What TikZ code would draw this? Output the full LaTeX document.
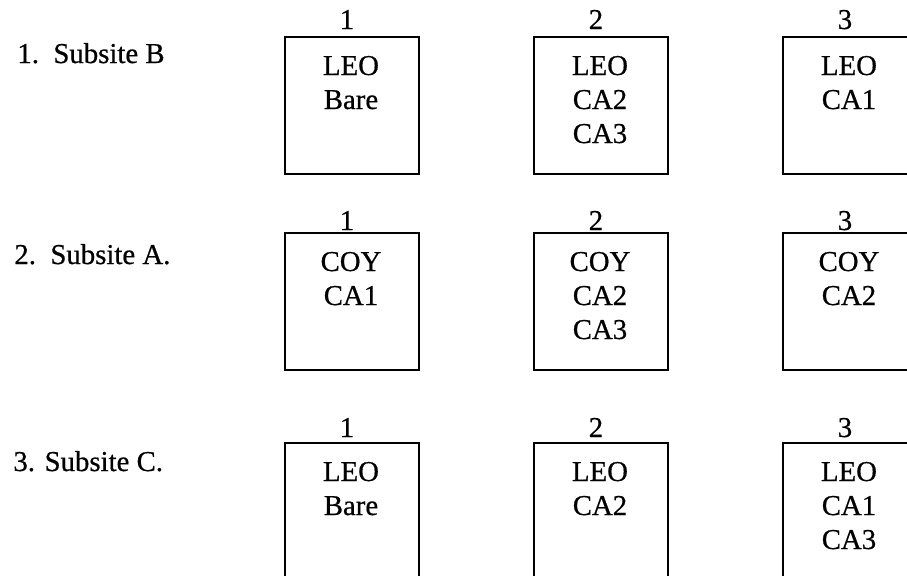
\documentclass[tikz,border=0pt]{standalone}
\usepackage{fontspec}
\setmainfont{Liberation Serif}[FakeBold=0.6]
\begin{document}
\begin{tikzpicture}[x=0.5pt,y=-0.5pt,
  plotbox/.style={draw, line width=1.1pt, minimum width=67pt, minimum height=68.5pt,
    inner sep=0pt, anchor=north west},
  txt/.style={font=\fontsize{14.4}{17}\selectfont, inner sep=0pt, anchor=base},
  rowlabel/.style={txt, anchor=base west}]
\useasboundingbox (0,0) rectangle (907,575);
\clip (0,0) rectangle (907,575);

% #1 name, #2 left, #3 top, #4 number above, #5 gap of number above top, #6 lines
\newcommand\cellbox[6]{%
  \node[plotbox] (#1) at (#2,#3) {};
  \node[txt] (#1-num) at ({#2+63},{#3-#5}) {#4};
  \foreach \t [count=\i] in {#6}
    \node[txt] (#1-\i) at ({#2+67},{#3+39+34*(\i-1)}) {\t};
}

% row labels
\node[rowlabel] (r1) at (17,63)  {1.\ \ Subsite B};
\node[rowlabel] (r2) at (14,264) {2.\ \ Subsite A.};
\node[rowlabel] (r3) at (13,471) {3. Subsite C.};

% row 1
\cellbox{b11}{284}{36}{1}{7}{LEO,Bare}
\cellbox{b12}{533}{36}{2}{7}{LEO,CA2,CA3}
\cellbox{b13}{782}{36}{3}{7}{LEO,CA1}

% row 2
\cellbox{b21}{284}{232}{1}{2}{COY,CA1}
\cellbox{b22}{533}{232}{2}{2}{COY,CA2,CA3}
\cellbox{b23}{782}{232}{3}{2}{COY,CA2}

% row 3
\cellbox{b31}{284}{442}{1}{5}{LEO,Bare}
\cellbox{b32}{533}{442}{2}{5}{LEO,CA2}
\cellbox{b33}{782}{442}{3}{5}{LEO,CA1,CA3}
\end{tikzpicture}
\end{document}
